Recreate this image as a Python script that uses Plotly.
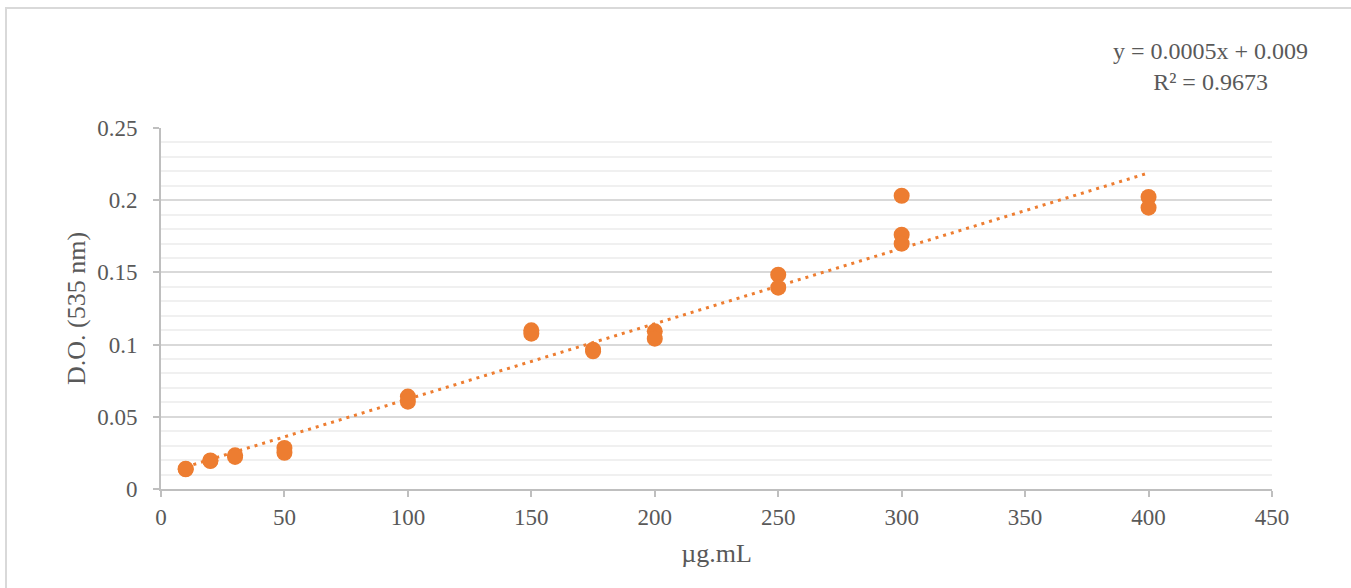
import numpy as np
import plotly.graph_objects as go

conc = [10, 10, 20, 20, 30, 30, 50, 50, 100, 100, 150, 150, 175, 175,
        200, 200, 250, 250, 300, 300, 300, 400, 400]
absorb = [0.0136, 0.0140, 0.0194, 0.0198, 0.0233, 0.0222, 0.0284, 0.0251,
          0.0640, 0.0605, 0.1099, 0.1076, 0.0965, 0.0954,
          0.1092, 0.1041, 0.1484, 0.1394, 0.2031, 0.1761, 0.1699, 0.2022, 0.1948]
x_ticks = [0, 50, 100, 150, 200, 250, 300, 350, 400, 450]
y_ticks = [0, 0.05, 0.1, 0.15, 0.2, 0.25]
y_tick_text = ["0", "0.05", "0.1", "0.15", "0.2", "0.25"]
x_title = "µg.mL"
y_title = "D.O. (535 nm)"
eq_text = "y = 0.0005x + 0.009<br>R² = 0.9673"

ORANGE = "#ED7D31"
TXT = "#595959"
FONT = "Liberation Serif, Times New Roman, serif"

slope, intercept = np.polyfit(conc, absorb, 1)
fit_x = [min(conc), max(conc)]
fit_y = [slope * v + intercept for v in fit_x]

fig = go.Figure()
fig.add_trace(go.Scatter(x=fit_x, y=fit_y, mode="lines",
                         line=dict(color=ORANGE, width=3, dash="3px,5px"),
                         hoverinfo="skip", showlegend=False))
fig.add_trace(go.Scatter(x=conc, y=absorb, mode="markers",
                         marker=dict(color=ORANGE, size=16, line=dict(width=0)),
                         showlegend=False))

L, R, T, B = 161, 79, 128, 99
W, H = 1351, 588
pw, ph = W - L - R, H - T - B

fig.update_layout(
    width=W, height=H,
    margin=dict(l=L, r=R, t=T, b=B),
    paper_bgcolor="white", plot_bgcolor="white",
    font=dict(family=FONT, color=TXT, size=23),
    showlegend=False,
    xaxis=dict(range=[0, 450], tickvals=x_ticks, showgrid=False, zeroline=False,
               showline=True, linecolor="#bfbfbf", linewidth=2,
               ticks="outside", ticklen=6, tickcolor="#bfbfbf", tickwidth=2,
               tickfont=dict(size=23, color=TXT, family=FONT),
               title=dict(text=x_title, font=dict(size=26, color=TXT, family=FONT), standoff=15)),
    yaxis=dict(range=[0, 0.25], tickvals=y_ticks, ticktext=y_tick_text,
               showgrid=True, gridcolor="#d9d9d9", gridwidth=1.5, zeroline=False,
               showline=True, linecolor="#bfbfbf", linewidth=2,
               ticks="outside", ticklen=6, tickcolor="#bfbfbf", tickwidth=2,
               ticklabelstandoff=11,
               tickfont=dict(size=23, color=TXT, family=FONT),
               minor=dict(dtick=0.01, showgrid=True, gridcolor="#f0f0f0", gridwidth=1.5, ticks=""),
               title=dict(text=y_title, font=dict(size=26, color=TXT, family=FONT), standoff=4)),
)

# outer chart border (light grey), extends past right/bottom edges
fig.add_shape(type="rect", xref="paper", yref="paper",
              x0=(6 - L) / pw, x1=(W + 10 - L) / pw,
              y0=(T + ph - (H + 10)) / ph, y1=(T + ph - 8) / ph,
              line=dict(color="#d9d9d9", width=2), fillcolor="rgba(0,0,0,0)", layer="below")

fig.add_annotation(text=eq_text, xref="paper", yref="paper",
                   x=(1210 - L) / pw, y=(T + ph - 66) / ph,
                   xanchor="center", yanchor="middle", showarrow=False, align="center",
                   font=dict(size=24, color=TXT, family=FONT))

fig.write_html("out.html", config={"displayModeBar": False},
               post_script="document.body.style.margin='0';document.body.style.overflow='hidden';")
